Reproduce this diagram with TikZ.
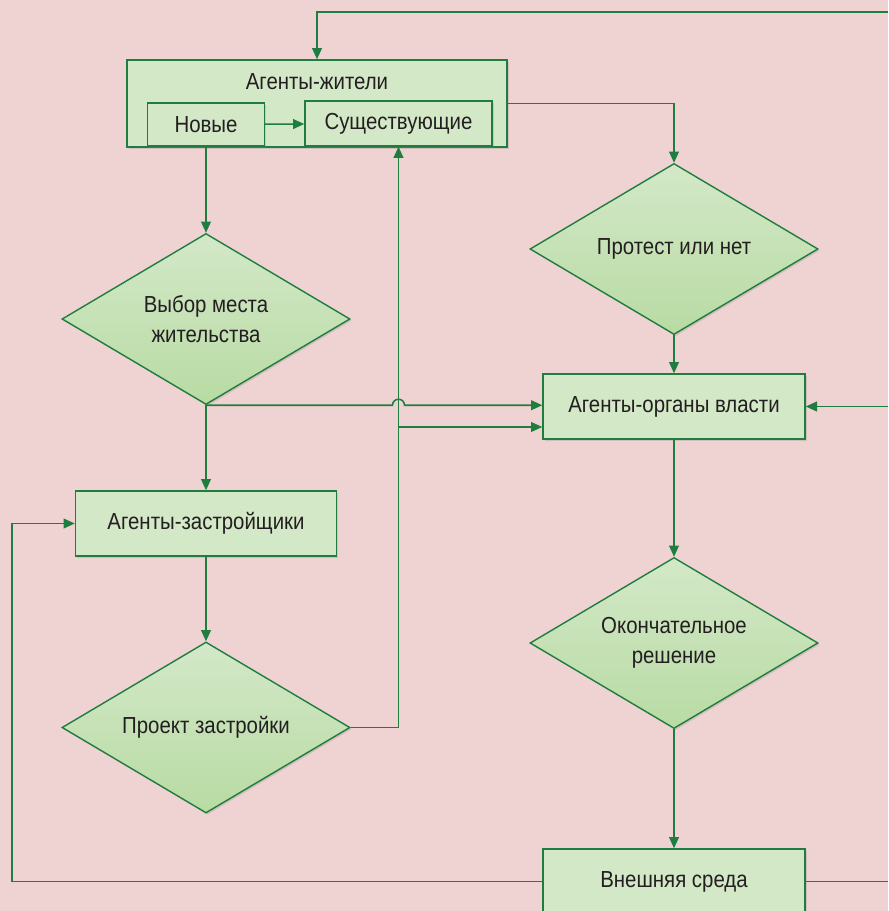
\documentclass[tikz,border=0pt]{standalone}
\usepackage{fontspec}
\setmainfont{Liberation Sans}[FakeStretch=0.88]
\usepackage{tikz}
\usetikzlibrary{arrows.meta, shapes.geometric, shadows, positioning, calc}

\definecolor{bgpink}{HTML}{EFD3D2}
\definecolor{boxgreen}{HTML}{D3E8C6}
\definecolor{diatop}{HTML}{D3E8C8}
\definecolor{diabot}{HTML}{B8DBA3}
\definecolor{linegreen}{HTML}{1F7D3F}
\definecolor{inkgray}{HTML}{231F20}

\tikzset{
  block/.style={draw=linegreen, line width=1pt, fill=boxgreen, text=inkgray,
    inner sep=0pt, align=center,
    drop shadow={shadow xshift=1.2pt, shadow yshift=-1.2pt, opacity=0.25}},
  decision/.style={diamond, aspect=1.68, draw=linegreen, line width=1pt, top color=diatop,
    bottom color=diabot, text=inkgray, inner sep=0pt, align=center,
    minimum width=7.2cm, minimum height=4.275cm,
    drop shadow={shadow xshift=1.2pt, shadow yshift=-1.2pt, opacity=0.25}},
  link/.style={draw=linegreen, line width=1.1pt},
  flow/.style={link, -{Triangle[length=8pt, width=7pt]}}
}

\begin{document}
\begin{tikzpicture}[x=0.025cm, y=-0.025cm, font=\fontsize{16.5}{21}\selectfont]
\useasboundingbox (0,0) rectangle (888,911);
\fill [bgpink] (0,0) rectangle (888,911);
\clip (0,0) rectangle (888,911);

% free ends at the picture border
\coordinate (leftrail) at (12,0);
\coordinate (rightedge) at (888,0);
\coordinate (topline) at (0,12);

% residents
\node (residents) [block, minimum width=9.5cm, minimum height=2.175cm] at (317,103.5) {};
\node (residentsTitle) [text=inkgray] at (317,82) {Агенты-жители};
\node (new) [block, drop shadow={opacity=0}, minimum width=2.925cm, minimum height=1.075cm] at (206,124.5) {Новые};
\node (existing) [block, drop shadow={opacity=0}, minimum width=4.675cm, minimum height=1.125cm] at (398.5,123.5) {Существующие};

% left column
\node (choice) [decision] at (206,319) {Выбор места\\жительства};
\node (builders) [block, minimum width=6.525cm, minimum height=1.625cm] at (206,523.5) {Агенты-застройщики};
\node (project) [decision] at (206,727.5) {Проект застройки};

% right column
\node (protest) [decision] at (674,249) {Протест или нет};
\node (power) [block, minimum width=6.55cm, minimum height=1.625cm] at (674,406.5) {Агенты-органы власти};
\node (final) [decision] at (674,643) {Окончательное\\решение};
\node (env) [block, minimum width=6.55cm, minimum height=1.625cm] at (674,881.5) {Внешняя среда};

\draw [flow] (new) -- (existing);
\draw [flow] (new.south) -- (choice.north);
\draw [flow] (choice.south) -- (builders.north);
\draw [flow] (builders.south) -- (project.north);
\draw [flow] (residents.east) -| (protest.north);
\draw [flow] (protest.south) -- (power.north);
\draw [flow] (power.south) -- (final.north);
\draw [flow] (final.south) -- (env.north);

% choice to power, hopping over the trunk
\draw [flow] (choice.south) -- ([xshift=-0.15cm]choice.south -| existing.south)
  arc [start angle=180, end angle=0, radius=0.15cm] -- (power.west |- choice.south);

% project back to the residents
\draw [flow] (project.east) -| (existing.south);
\draw [flow] (existing.south |- 0,427) -- (power.west |- 0,427);

% feedback loops
\draw [flow] (env.west) -- (env.west -| leftrail) |- (builders.west);
\draw [link] (env.east) -- (env.east -| rightedge);
\draw [flow] (rightedge |- power.east) -- (power.east);
\draw [flow] (rightedge |- topline) -| (residents.north);
\end{tikzpicture}
\end{document}
